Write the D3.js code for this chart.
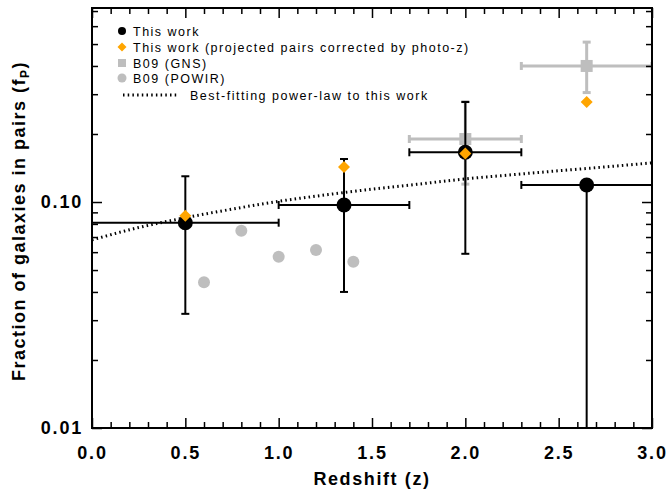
<!DOCTYPE html>
<html><head><meta charset="utf-8">
<script src="https://cdn.jsdelivr.net/npm/d3@7"></script>
<style>body{margin:0;background:#fff}svg{display:block}text{font-family:"Liberation Sans",Arial,sans-serif}</style>
</head><body><svg id="c" width="668" height="492"></svg>
<script>
// This work (black circles)
const twZ = [0.5, 1.35, 2.0, 2.65];
const twF = [0.081, 0.097, 0.166, 0.119];
const twZlo = [0.0, 1.0, 1.7, 2.3];
const twZhi = [1.0, 1.7, 2.3, 3.0];
const twFlo = [0.032, 0.040, 0.059, 0.001];
const twFhi = [0.130, 0.155, 0.277, 0.119];
// This work, photo-z corrected (orange diamonds)
const pzZ = [0.5, 1.35, 2.0, 2.65];
const pzF = [0.087, 0.143, 0.164, 0.277];
// B09 GNS (gray squares)
const gnsZ = [2.0, 2.65];
const gnsF = [0.190, 0.400];
const gnsZlo = [1.7, 2.3];
const gnsZhi = [2.3, 3.0];
const gnsFlo = [0.120, 0.305];
const gnsFhi = [0.278, 0.510];
// B09 POWIR (gray circles)
const powZ = [0.6, 0.8, 1.0, 1.2, 1.4];
const powF = [0.0442, 0.0746, 0.0573, 0.0613, 0.0544];
// Best-fitting power law
const plZ = [0.0, 0.25, 0.5, 0.75, 1.0, 1.25, 1.5, 1.75, 2.0, 2.25, 2.5, 2.75, 3.0];
const plF = [0.068, 0.0771, 0.0852, 0.0930, 0.1007, 0.1075, 0.1140, 0.1200, 0.1266, 0.1320, 0.1375, 0.1430, 0.1490];
// ticks
const xMajor = [0, 0.5, 1.0, 1.5, 2.0, 2.5, 3.0];
const xMajorLabels = ["0.0", "0.5", "1.0", "1.5", "2.0", "2.5", "3.0"];
const yMajor = [0.01, 0.1];
const yMajorLabels = ["0.01", "0.10"];
const legendLabels = ["This work", "This work (projected pairs corrected by photo-z)", "B09 (GNS)", "B09 (POWIR)", "Best-fitting power-law to this work"];

const ORANGE = "#FFA500", GRAY = "#BEBEBE";
const L = 92, R = 652, T = 8, B = 428;
const svg = d3.select("#c");
const x = d3.scaleLinear().domain([0, 3]).range([L, R]);
const y = d3.scaleLog().domain([0.01, 0.722]).range([B, T]);

const xMinor = d3.range(0, 31).map(i => i / 10).filter(v => !xMajor.some(m => Math.abs(m - v) < 1e-9));
const yMinor = [0.02,0.03,0.04,0.05,0.06,0.07,0.08,0.09,0.2,0.3,0.4,0.5,0.6,0.7];

svg.append("clipPath").attr("id","clp").append("rect").attr("x",L).attr("y",T).attr("width",R-L).attr("height",B-T);
const g = svg.append("g").attr("clip-path","url(#clp)");

function errBars(sel, zs, fs, zlo, zhi, flo, fhi, color, sw, cap) {
  zs.forEach((z, i) => {
    const cx = x(z), cy = y(fs[i]);
    const x0 = x(zlo[i]), x1 = x(zhi[i]);
    sel.append("line").attr("x1",x0).attr("x2",x1).attr("y1",cy).attr("y2",cy).attr("stroke",color).attr("stroke-width",sw);
    sel.append("line").attr("x1",x0).attr("x2",x0).attr("y1",cy-cap).attr("y2",cy+cap).attr("stroke",color).attr("stroke-width",sw);
    sel.append("line").attr("x1",x1).attr("x2",x1).attr("y1",cy-cap).attr("y2",cy+cap).attr("stroke",color).attr("stroke-width",sw);
    const y0 = y(flo[i]), y1 = y(fhi[i]);
    sel.append("line").attr("x1",cx).attr("x2",cx).attr("y1",y0).attr("y2",y1).attr("stroke",color).attr("stroke-width",sw);
    if (fhi[i] > fs[i]) sel.append("line").attr("x1",cx-cap).attr("x2",cx+cap).attr("y1",y1).attr("y2",y1).attr("stroke",color).attr("stroke-width",sw);
    if (flo[i] > 0.01) sel.append("line").attr("x1",cx-cap).attr("x2",cx+cap).attr("y1",y0).attr("y2",y0).attr("stroke",color).attr("stroke-width",sw);
  });
}

// POWIR
g.selectAll(".pow").data(powZ).join("circle").attr("cx",d=>x(d)).attr("cy",(d,i)=>y(powF[i])).attr("r",6).attr("fill",GRAY);
// GNS
errBars(g, gnsZ, gnsF, gnsZlo, gnsZhi, gnsFlo, gnsFhi, GRAY, 3, 4);
g.selectAll(".gns").data(gnsZ).join("rect").attr("x",d=>x(d)-6).attr("y",(d,i)=>y(gnsF[i])-6).attr("width",12).attr("height",12).attr("fill",GRAY);
// This work
errBars(g, twZ, twF, twZlo, twZhi, twFlo, twFhi, "#000", 2, 4);
// power law
const line = d3.line().x(d=>x(d[0])).y(d=>y(d[1])).curve(d3.curveMonotoneX);
g.append("path").datum(plZ.map((z,i)=>[z,plF[i]])).attr("d",line).attr("fill","none").attr("stroke","#000").attr("stroke-width",3).attr("stroke-dasharray","1.5,3.2");
g.selectAll(".tw").data(twZ).join("circle").attr("cx",d=>x(d)).attr("cy",(d,i)=>y(twF[i])).attr("r",7.5).attr("fill","#000");
const diamond = (cx, cy, s) => `M${cx},${cy-s}L${cx+s},${cy}L${cx},${cy+s}L${cx-s},${cy}Z`;
g.selectAll(".pz").data(pzZ).join("path").attr("d",(d,i)=>diamond(x(d), y(pzF[i]), 6)).attr("fill",ORANGE);

// axes
const ax = svg.append("g");
ax.append("g").attr("transform",`translate(0,${B})`).call(d3.axisBottom(x).tickValues(xMajor).tickSizeInner(-10).tickSizeOuter(0).tickPadding(18).tickFormat((d,i)=>xMajorLabels[i]));
ax.append("g").attr("transform",`translate(0,${B})`).call(d3.axisBottom(x).tickValues(xMinor).tickSizeInner(-6).tickSizeOuter(0).tickFormat(""));
ax.append("g").attr("transform",`translate(0,${T})`).call(d3.axisTop(x).tickValues(xMajor).tickSizeInner(-10).tickSizeOuter(0).tickFormat(""));
ax.append("g").attr("transform",`translate(0,${T})`).call(d3.axisTop(x).tickValues(xMinor).tickSizeInner(-6).tickSizeOuter(0).tickFormat(""));
ax.append("g").attr("transform",`translate(${L},0)`).call(d3.axisLeft(y).tickValues(yMajor).tickSizeInner(-10).tickSizeOuter(0).tickPadding(9).tickFormat((d,i)=>yMajorLabels[i]));
ax.append("g").attr("transform",`translate(${L},0)`).call(d3.axisLeft(y).tickValues(yMinor).tickSizeInner(-6).tickSizeOuter(0).tickFormat(""));
ax.append("g").attr("transform",`translate(${R},0)`).call(d3.axisRight(y).tickValues(yMajor).tickSizeInner(-10).tickSizeOuter(0).tickFormat(""));
ax.append("g").attr("transform",`translate(${R},0)`).call(d3.axisRight(y).tickValues(yMinor).tickSizeInner(-6).tickSizeOuter(0).tickFormat(""));
ax.selectAll(".domain").remove();
ax.selectAll(".tick line").attr("stroke","#000").attr("stroke-width",1.5);
ax.selectAll(".tick text").attr("font-size",18).attr("font-weight","bold").attr("fill","#000").attr("letter-spacing","1.8px");
svg.append("rect").attr("x",L).attr("y",T).attr("width",R-L).attr("height",B-T).attr("fill","none").attr("stroke","#000").attr("stroke-width",2);

// axis titles
svg.append("text").attr("x",372).attr("y",485).attr("text-anchor","middle").attr("font-size",18).attr("font-weight","bold").attr("letter-spacing","1.6px").text("Redshift (z)");
const yt = svg.append("text").attr("transform",`translate(25,${(T+B)/2 + 3}) rotate(-90)`).attr("text-anchor","middle").attr("font-size",18).attr("font-weight","bold").attr("letter-spacing","1.5px");
yt.append("tspan").text("Fraction of galaxies in pairs (f");
yt.append("tspan").attr("font-size",12).attr("dy",4).text("P");
yt.append("tspan").attr("dy",-4).text(")");

// legend
const lg = svg.append("g");
const ly = [31, 47, 63, 78, 95];
lg.append("circle").attr("cx",122).attr("cy",ly[0]).attr("r",4).attr("fill","#000");
lg.append("path").attr("d",diamond(122, ly[1], 4.5)).attr("fill",ORANGE);
lg.append("rect").attr("x",118).attr("y",ly[2]-4).attr("width",8).attr("height",8).attr("fill",GRAY);
lg.append("circle").attr("cx",122).attr("cy",ly[3]).attr("r",4.5).attr("fill",GRAY);
lg.append("line").attr("x1",123).attr("x2",179).attr("y1",ly[4]).attr("y2",ly[4]).attr("stroke","#000").attr("stroke-width",3).attr("stroke-dasharray","1.5,3.2");
legendLabels.forEach((t,i)=>{
  lg.append("text").attr("x", i===4 ? 190 : 133).attr("y", ly[i]+4.5).attr("font-size",12.5).attr("letter-spacing","1.5px").attr("fill","#000").text(t);
});
</script></body></html>
